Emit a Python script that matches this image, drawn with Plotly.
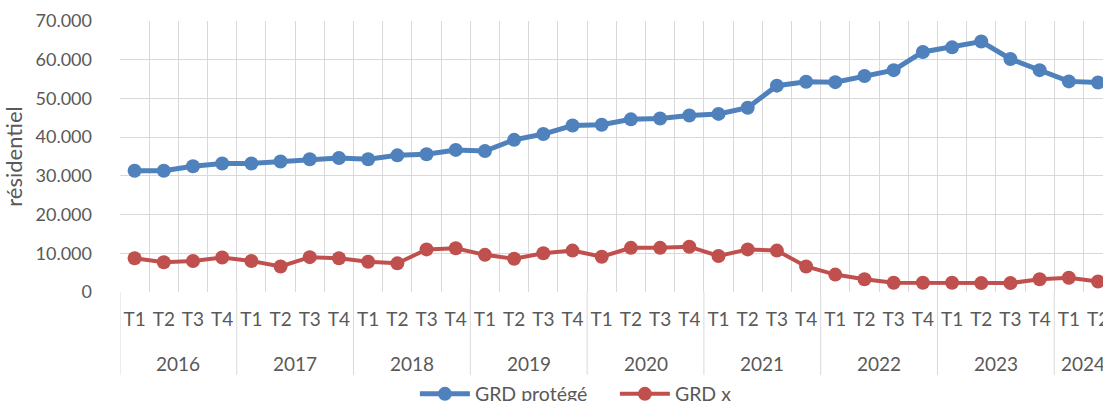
import plotly.graph_objects as go

years = ["2016", "2017", "2018", "2019", "2020", "2021", "2022", "2023", "2024"]
quarters = ["T1", "T2", "T3", "T4"]
n_last_year_quarters = 2

grd_protege = [31300, 31300, 32500, 33200,
               33200, 33700, 34300, 34600,
               34300, 35300, 35600, 36700,
               36400, 39300, 40800, 43000,
               43200, 44600, 44800, 45600,
               46000, 47600, 53300, 54300,
               54200, 55800, 57300, 62000,
               63200, 64700, 60200, 57300,
               54400, 54100]
grd_x = [8700, 7700, 8000, 8900,
         8000, 6600, 9000, 8700,
         7800, 7400, 11000, 11300,
         9600, 8600, 10000, 10700,
         9100, 11400, 11400, 11700,
         9300, 11000, 10700, 6600,
         4500, 3300, 2400, 2400,
         2400, 2300, 2300, 3300,
         3700, 2700]

# build category positions from the year / quarter structure
x_quarters = []
year_groups = []  # (year, first index, last index)
for i, y in enumerate(years):
    qs = quarters if i < len(years) - 1 else quarters[:n_last_year_quarters]
    start = len(x_quarters)
    x_quarters.extend(qs)
    year_groups.append((y, start, len(x_quarters) - 1))
x_idx = list(range(len(x_quarters)))

FONT = "Lato"
TXT = "#595959"
GRID = "#D9D9D9"

fig = go.Figure()
fig.add_trace(go.Scatter(
    x=x_idx, y=grd_protege, name="GRD protégé",
    mode="lines+markers",
    line=dict(color="#4F81BD", width=5),
    marker=dict(color="#4F81BD", size=14),
))
fig.add_trace(go.Scatter(
    x=x_idx, y=grd_x, name="GRD x",
    mode="lines+markers",
    line=dict(color="#C0504D", width=4),
    marker=dict(color="#C0504D", size=14),
))

# year labels and year dividers below the category labels
DIV_BOTTOM = -0.306
for y, a, b in year_groups:
    fig.add_annotation(x=(a + b) / 2, y=-0.262, xref="x", yref="paper",
                       text=y, showarrow=False, yanchor="middle",
                       font=dict(family=FONT, size=19, color=TXT))
    fig.add_shape(type="line", xref="x", yref="paper",
                  x0=a - 0.5, x1=a - 0.5, y0=0, y1=DIV_BOTTOM,
                  line=dict(color=GRID, width=1), layer="below")

fig.update_layout(
    width=1103, height=401,
    margin=dict(l=120, r=0, t=21, b=109, autoexpand=False),
    paper_bgcolor="white", plot_bgcolor="white",
    separators=",.",
    font=dict(family=FONT, size=19, color=TXT),
    showlegend=True,
    legend=dict(orientation="h", x=0.300, xanchor="left", y=-0.305, yanchor="top",
                font=dict(family=FONT, size=19.5, color=TXT),
                itemwidth=50, entrywidth=135, entrywidthmode="pixels",
                tracegroupgap=0, bgcolor="rgba(0,0,0,0)"),
    xaxis=dict(
        range=[-0.5, 33.17],
        tickmode="array", tickvals=x_idx, ticktext=x_quarters,
        showgrid=False, zeroline=False, showline=False,
        ticks="", tickangle=0,
        ticklabelstandoff=14,
        ticklabeloverflow="allow",
        automargin=False,
        tickfont=dict(family=FONT, size=19, color=TXT),
        minor=dict(tickmode="array",
                   tickvals=[i - 0.5 for i in range(len(x_quarters) + 1)],
                   showgrid=True, gridcolor=GRID, gridwidth=1, ticks=""),
    ),
    yaxis=dict(
        range=[0, 70000],
        dtick=10000,
        tickformat=",d",
        showgrid=True, gridcolor=GRID, gridwidth=1,
        zeroline=False, showline=False,
        ticks="",
        ticklabelstandoff=27,
        automargin=False,
        tickfont=dict(family=FONT, size=18, color=TXT),
        title=dict(text="résidentiel", font=dict(family=FONT, size=22, color=TXT), standoff=10),
    ),
)

fig.write_html("out.html",
               config={"displayModeBar": False},
               post_script="document.body.style.margin='0';document.body.style.overflow='hidden';")
